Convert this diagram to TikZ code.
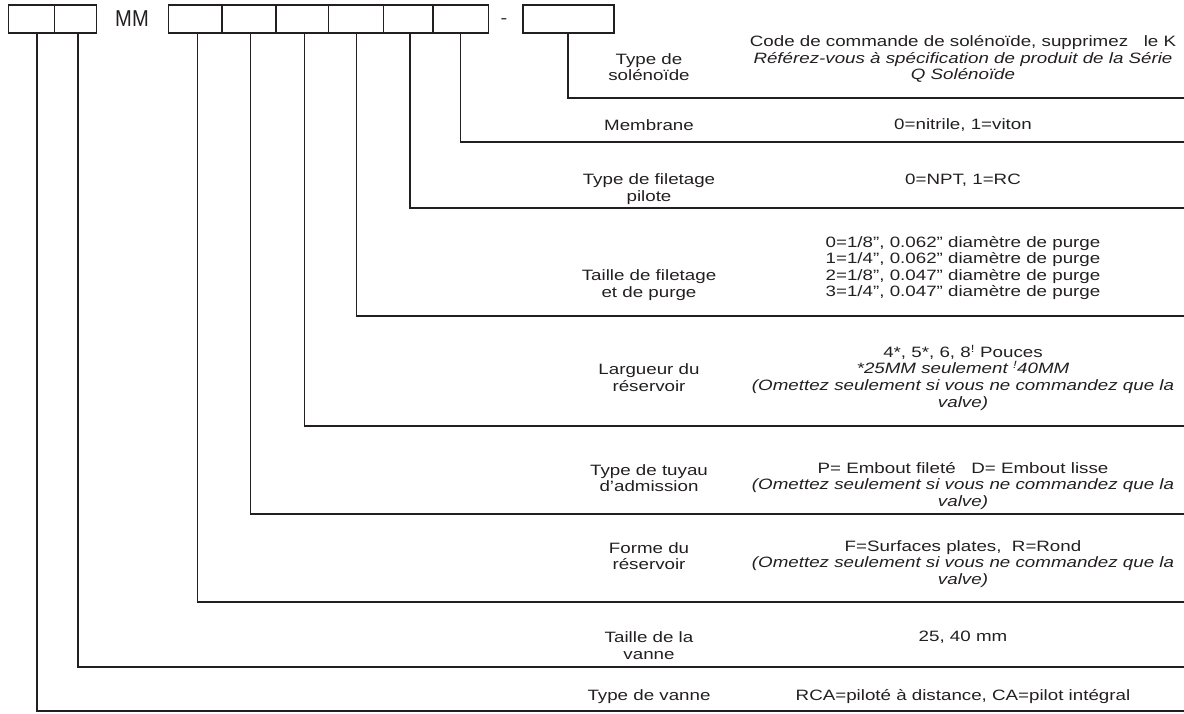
\documentclass[tikz,border=0pt]{standalone}
\usepackage{fontspec}
\usepackage{graphicx}
\setmainfont{Liberation Sans}[FakeStretch=1.25]
\definecolor{ink}{HTML}{231F20}
\newcommand\tighttext{\fontsize{15}{16.6}\selectfont\setlength{\lineskiplimit}{-20pt}}
\begin{document}
\begin{tikzpicture}[x=1pt,y=-1pt,
  cell/.style={draw=ink, line width=1.4pt, minimum height=28pt, inner sep=0pt, outer sep=0pt, anchor=north west},
  leader/.style={draw=ink, line width=1.3pt},
  txt/.style={align=center, inner sep=0pt, text=ink, font=\tighttext}]
\useasboundingbox (0,0) rectangle (1184,713);
% code boxes
\node[cell, minimum width=46.3pt] (b1) at (8.3,5) {};
\node[cell, minimum width=41.9pt] (b2) at (54.6,5) {};
\node[text=ink, inner sep=0pt, font=\fontsize{23}{23}\selectfont] (mm) at (132,19) {\scalebox{0.7}[1]{MM}};
\node[cell, minimum width=53.6pt] (c1) at (168.4,5) {};
\node[cell, minimum width=54pt] (c2) at (222,5) {};
\node[cell, minimum width=52.6pt] (c3) at (276,5) {};
\node[cell, minimum width=54.9pt] (c4) at (328.6,5) {};
\node[cell, minimum width=49.5pt] (c5) at (383.5,5) {};
\node[cell, minimum width=55.7pt] (c6) at (433,5) {};
\node[text=ink, inner sep=0pt, font=\fontsize{16}{16}\selectfont] (dash) at (504,21) {-};
\node[cell, minimum width=91pt] (s1) at (523,5) {};
% line ends at the right edge
\coordinate (e1) at (1184,98);
\coordinate (e2) at (1184,142);
\coordinate (e3) at (1184,208);
\coordinate (e4) at (1184,316);
\coordinate (e5) at (1184,426);
\coordinate (e6) at (1184,514);
\coordinate (e7) at (1184,602);
\coordinate (e8) at (1184,667);
\coordinate (e9) at (1184,711);
% leaders
\draw[leader] ([xshift=-0.5pt]s1.south) |- (e1);
\draw[leader] ([xshift=-0.3pt]c6.south) |- (e2);
\draw[leader] ([xshift=1.7pt]c5.south) |- (e3);
\draw[leader] ([xshift=0.6pt]c4.south) |- (e4);
\draw[leader] ([xshift=2pt]c3.south) |- (e5);
\draw[leader] ([xshift=1.3pt]c2.south) |- (e6);
\draw[leader] ([xshift=2.1pt]c1.south) |- (e7);
\draw[leader] ([xshift=2.4pt]b2.south) |- (e8);
\draw[leader] ([xshift=5.5pt]b1.south) |- (e9);
% labels
\node[txt] (l1) at (649,67) {Type de\\solénoïde};
\node[txt] (t1) at (963,59) {Code de commande de solénoïde, supprimez\ \ \ le K\\\textit{Référez-vous à spécification de produit de la Série}\\\textit{Q Solénoïde}};
\node[txt] (l2) at (649,125) {Membrane};
\node[txt] (t2) at (963,125) {0=nitrile, 1=viton};
\node[txt] (l3) at (649,189) {Type de filetage\\pilote};
\node[txt] (t3) at (963,180) {0=NPT, 1=RC};
\node[txt] (l4) at (649,285) {Taille de filetage\\et de purge};
\node[txt] (t4) at (963,268) {0=1/8”, 0.062” diamètre de purge\\1=1/4”, 0.062” diamètre de purge\\2=1/8”, 0.047” diamètre de purge\\3=1/4”, 0.047” diamètre de purge};
\node[txt] (l5) at (649,377.5) {Largueur du\\réservoir};
\node[txt] (t5) at (963,377.5) {4*, 5*, 6, 8\textsuperscript{!} Pouces\\\textit{*25MM seulement \textsuperscript{!}40MM}\\\textit{(Omettez seulement si vous ne commandez que la}\\\textit{valve)}};
\node[txt] (l6) at (649,478) {Type de tuyau\\d’admission};
\node[txt] (t6) at (963,486) {P= Embout fileté\ \ \ D= Embout lisse\\\textit{(Omettez seulement si vous ne commandez que la}\\\textit{valve)}};
\node[txt] (l7) at (649,556) {Forme du\\réservoir};
\node[txt] (t7) at (963,564) {F=Surfaces plates,\ \ R=Rond\\\textit{(Omettez seulement si vous ne commandez que la}\\\textit{valve)}};
\node[txt] (l8) at (649,645.5) {Taille de la\\vanne};
\node[txt] (t8) at (963,637) {25, 40 mm};
\node[txt] (l9) at (649,697) {Type de vanne};
\node[txt] (t9) at (963,697) {RCA=piloté à distance, CA=pilot intégral};
\end{tikzpicture}
\end{document}
